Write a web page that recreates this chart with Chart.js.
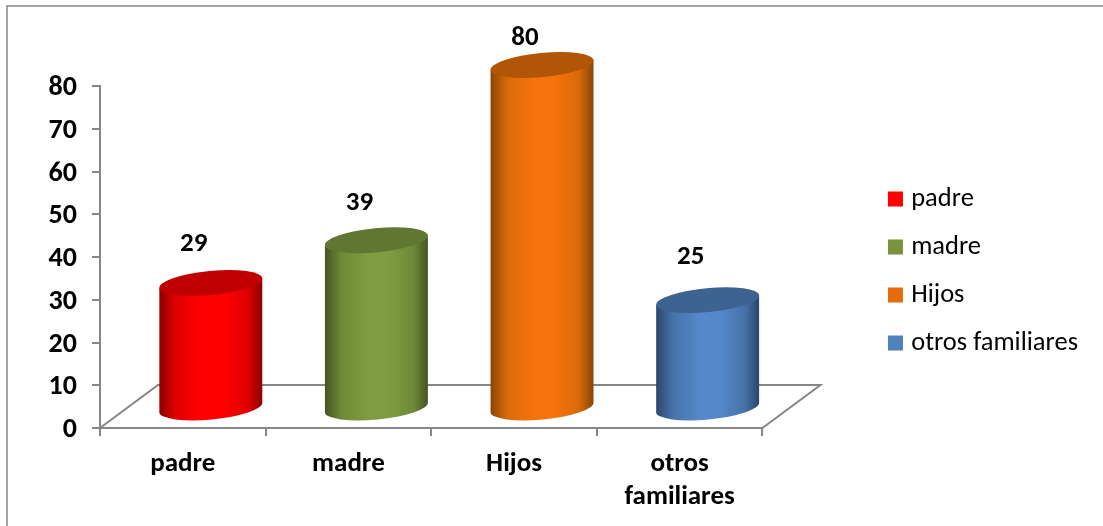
<!DOCTYPE html>
<html>
<head>
<meta charset="utf-8">
<title>Familiares</title>
<script src="https://cdn.jsdelivr.net/npm/chart.js@4"></script>
<style>
  html, body { margin: 0; padding: 0; background: #fff; overflow: hidden; }
  #box { position: relative; width: 1103px; height: 526px; }
</style>
</head>
<body>
<div id="box"><canvas id="chart"></canvas></div>
<script>
const categories = ['padre', 'madre', 'Hijos', 'otros familiares'];
const tickLabels = ['padre', 'madre', 'Hijos', ['otros', 'familiares']];
const values = [29, 39, 80, 25];
const legendColors = ['#ff0000', '#77933c', '#e46c0a', '#4f81bd'];

// edge / shade / middle of the cylinder wall, then the darker top cap
const wallEdge = ['#8c0000', '#435423', '#8a4406', '#2b466b'];
const wallShade = ['#e00000', '#6f8a37', '#d96a0a', '#4672a8'];
const wallMiddle = ['#ff0000', '#7f9c41', '#f5730b', '#5488cb'];
const capColors = ['#c00000', '#5f7731', '#b25506', '#3d6390'];
const labelLift = [60, 58, 48, 64];

const FONT = 'Carlito, Lato, sans-serif';
const AXIS_GREY = '#868686';
const DEPTH_X = 58, DEPTH_Y = 43;   // floor depth
const SHIFT_X = 28;                 // cylinders stand in the middle of the floor
const RX = 51.7, RY = 12, TILT = -0.095;

// ── Frame and floor ───────────────────────────────────────────
const floorPlugin = {
  id: 'floor',
  beforeDatasetsDraw(chart) {
    const { ctx, chartArea: a } = chart;
    ctx.save();
    ctx.strokeStyle = AXIS_GREY;
    ctx.lineWidth = 2;
    ctx.beginPath();
    ctx.moveTo(a.left, a.bottom);
    ctx.lineTo(a.left + DEPTH_X, a.bottom - DEPTH_Y);
    ctx.lineTo(a.right + DEPTH_X, a.bottom - DEPTH_Y);
    ctx.lineTo(a.right, a.bottom);
    ctx.stroke();
    ctx.restore();
  },
  beforeDraw(chart) {
    const { ctx } = chart;
    ctx.save();
    ctx.strokeStyle = AXIS_GREY;
    ctx.lineWidth = 1.5;
    ctx.beginPath();
    ctx.moveTo(7, 526);
    ctx.lineTo(7, 6);
    ctx.lineTo(1103, 6);
    ctx.stroke();
    ctx.restore();
  },
};

// ── Cylinders and value labels ────────────────────────────────
const cylinderPlugin = {
  id: 'cylinders',
  beforeDatasetDraw(chart, args) {
    const { ctx } = chart;
    const meta = chart.getDatasetMeta(args.index);
    meta.data.forEach((bar, i) => {
      const cx = bar.x + SHIFT_X;
      const topY = bar.y - 21;
      const baseY = bar.base - 19.5;
      const dx = RX * Math.cos(TILT);
      const dy = RX * Math.sin(TILT);

      const g = ctx.createLinearGradient(cx - dx, 0, cx + dx, 0);
      g.addColorStop(0, wallEdge[i]);
      g.addColorStop(0.16, wallShade[i]);
      g.addColorStop(0.42, wallMiddle[i]);
      g.addColorStop(0.62, wallMiddle[i]);
      g.addColorStop(0.86, wallShade[i]);
      g.addColorStop(1, wallEdge[i]);

      ctx.save();
      ctx.fillStyle = g;
      ctx.beginPath();
      ctx.moveTo(cx - dx, topY - dy);
      ctx.lineTo(cx - dx, baseY - dy);
      ctx.ellipse(cx, baseY, RX, RY, TILT, Math.PI, 0, true);
      ctx.lineTo(cx + dx, topY + dy);
      ctx.closePath();
      ctx.fill();

      ctx.fillStyle = capColors[i];
      ctx.beginPath();
      ctx.ellipse(cx, topY, RX, RY, TILT, 0, Math.PI * 2);
      ctx.fill();

      ctx.fillStyle = '#000';
      ctx.font = 'bold 27px ' + FONT;
      ctx.textAlign = 'center';
      ctx.textBaseline = 'middle';
      ctx.fillText(values[i], bar.x + 11, bar.y - labelLift[i]);
      ctx.restore();
    });
    return false; // the default flat bar is replaced by the cylinder
  },
};

new Chart(document.getElementById('chart'), {
  type: 'bar',
  data: {
    labels: tickLabels,
    datasets: [{ data: values, backgroundColor: legendColors, barThickness: 103 }],
  },
  plugins: [floorPlugin, cylinderPlugin],
  options: {
    responsive: true,
    maintainAspectRatio: false,
    animation: false,
    devicePixelRatio: 1,
    layout: { padding: { top: 16, right: 15, bottom: 0, left: 0 } },
    plugins: {
      tooltip: { enabled: false },
      legend: {
        position: 'right',
        maxWidth: 300,
        onClick: null,
        labels: {
          color: '#111',
          font: { family: FONT, size: 26.5 },
          // thin box with a thick stroke: 15px square, closer to the text than the default gap
          boxWidth: 5,
          boxHeight: 5,
          padding: 21.5,
          generateLabels: () => categories.map((c, i) => ({
            text: c, fillStyle: legendColors[i], strokeStyle: legendColors[i], lineWidth: 10, index: i,
          })),
        },
      },
    },
    scales: {
      x: {
        border: { color: AXIS_GREY, width: 2 },
        grid: { drawOnChartArea: false, color: AXIS_GREY, lineWidth: 2, tickLength: 8 },
        ticks: { color: '#000', padding: 12, maxRotation: 0, autoSkip: false, font: { family: FONT, size: 27, weight: 'bold', lineHeight: 1.22 } },
        afterFit: s => { s.height = 98; },
      },
      y: {
        min: 0,
        max: 80,
        border: { color: AXIS_GREY, width: 2 },
        grid: { drawOnChartArea: false, color: AXIS_GREY, lineWidth: 2, tickLength: 8 },
        ticks: { color: '#000', stepSize: 10, padding: 15, labelOffset: 2, font: { family: FONT, size: 28, weight: 'bold' } },
        afterFit: s => { s.width = 100; },
      },
      // empty boxes that only hold the plot away from the legend and the top edge
      gapRight: {
        type: 'linear', position: 'right', display: true,
        border: { display: false }, grid: { display: false }, ticks: { display: false },
        afterFit: s => { s.width = 109; },
      },
      gapTop: {
        type: 'category', position: 'top', display: true,
        border: { display: false }, grid: { display: false }, ticks: { display: false },
        afterFit: s => { s.height = 70; },
      },
    },
  },
});
</script>
</body>
</html>
